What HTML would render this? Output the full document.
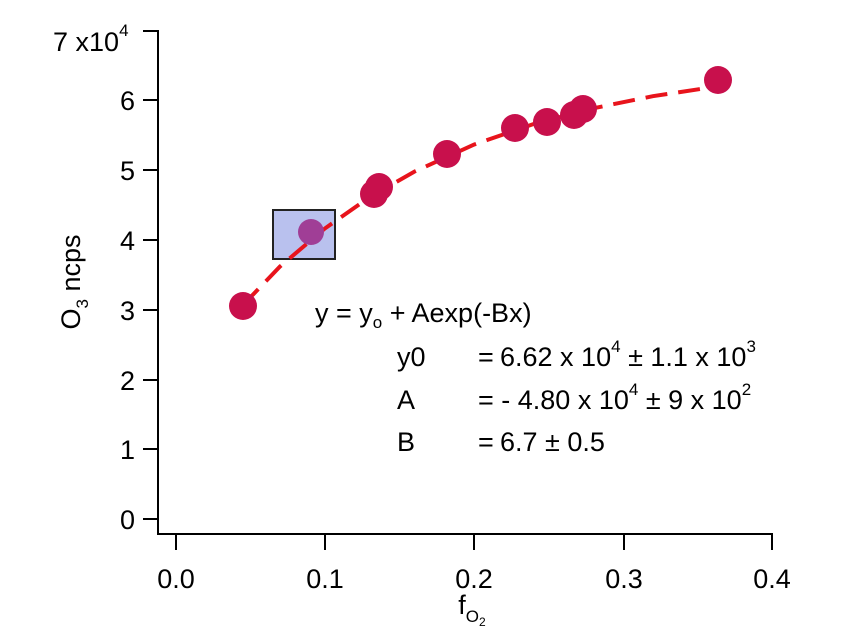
<!DOCTYPE html>
<html><head><meta charset="utf-8"><style>body{margin:0;background:#fff} svg text{font-family:"Liberation Sans",Arial,sans-serif;font-size:27px}</style></head><body>
<svg width="850" height="636" xmlns="http://www.w3.org/2000/svg" fill="#000">
<g stroke="#000" stroke-width="2" fill="none">
<path d="M158 30 V534 H773"/>
<path d="M143 31H158M143 100H158M143 170H158M143 240H158M143 310H158M143 380H158M143 449H158M143 519H158"/>
<path d="M176 534V550M325 534V550M474 534V550M624 534V550M772 534V550"/>
</g>
<g text-anchor="end">
<text x="135" y="110">6</text><text x="135" y="180">5</text><text x="135" y="250">4</text>
<text x="135" y="320">3</text><text x="135" y="390">2</text><text x="135" y="459">1</text><text x="135" y="529">0</text>
</g>
<text x="53" y="51">7 x10<tspan style="font-size:17px" dy="-15">4</tspan></text>
<g text-anchor="middle">
<text x="176" y="588">0.0</text><text x="325" y="588">0.1</text><text x="474" y="588">0.2</text><text x="624" y="588">0.3</text><text x="772" y="588">0.4</text>
<text x="472" y="614">f<tspan style="font-size:17px" dy="8">O</tspan><tspan style="font-size:12px" dy="4">2</tspan></text>
</g>
<text transform="translate(80,282) rotate(-90)" text-anchor="middle">O<tspan style="font-size:17px" dy="8">3</tspan><tspan dy="-8"> ncps</tspan></text>
<rect x="273" y="210" width="62" height="49" fill="#b9c1ee" stroke="#222" stroke-width="2"/>
<path d="M243 305 L280 266.5 L325 228.4 L369.7 197.1 L414.4 171.6 L474 144.6 L533.6 124 L593.2 108.3 L652.8 96.2 L720 86" stroke="#e8141c" stroke-width="4" fill="none" stroke-dasharray="22,11"/>
<g fill="#c8104c">
<circle cx="243" cy="306" r="14"/>
<circle cx="374" cy="194" r="14"/><circle cx="379" cy="187" r="14"/>
<circle cx="447" cy="154" r="14"/><circle cx="515" cy="128" r="14"/>
<circle cx="547" cy="122" r="14"/><circle cx="574" cy="115" r="14"/><circle cx="583" cy="109" r="14"/>
<circle cx="718" cy="80" r="14"/>
</g>
<circle cx="311" cy="232" r="13" fill="#a03e96"/>
<text x="315" y="322">y = y<tspan style="font-size:17px" dy="6">o</tspan><tspan dy="-6"> + Aexp(-Bx)</tspan></text>
<text x="397" y="366">y0</text><text x="478" y="366">=</text>
<text x="500" y="366">6.62 x 10<tspan style="font-size:17px" dy="-14">4</tspan><tspan dy="14"> ± 1.1 x 10</tspan><tspan style="font-size:17px" dy="-14">3</tspan></text>
<text x="397" y="409">A</text>
<text x="478" y="409">= - 4.80 x 10<tspan style="font-size:17px" dy="-14">4</tspan><tspan dy="14"> ± 9 x 10</tspan><tspan style="font-size:17px" dy="-14">2</tspan></text>
<text x="397" y="451">B</text><text x="478" y="451">=</text><text x="500" y="451">6.7 ± 0.5</text>
</svg>
</body></html>
